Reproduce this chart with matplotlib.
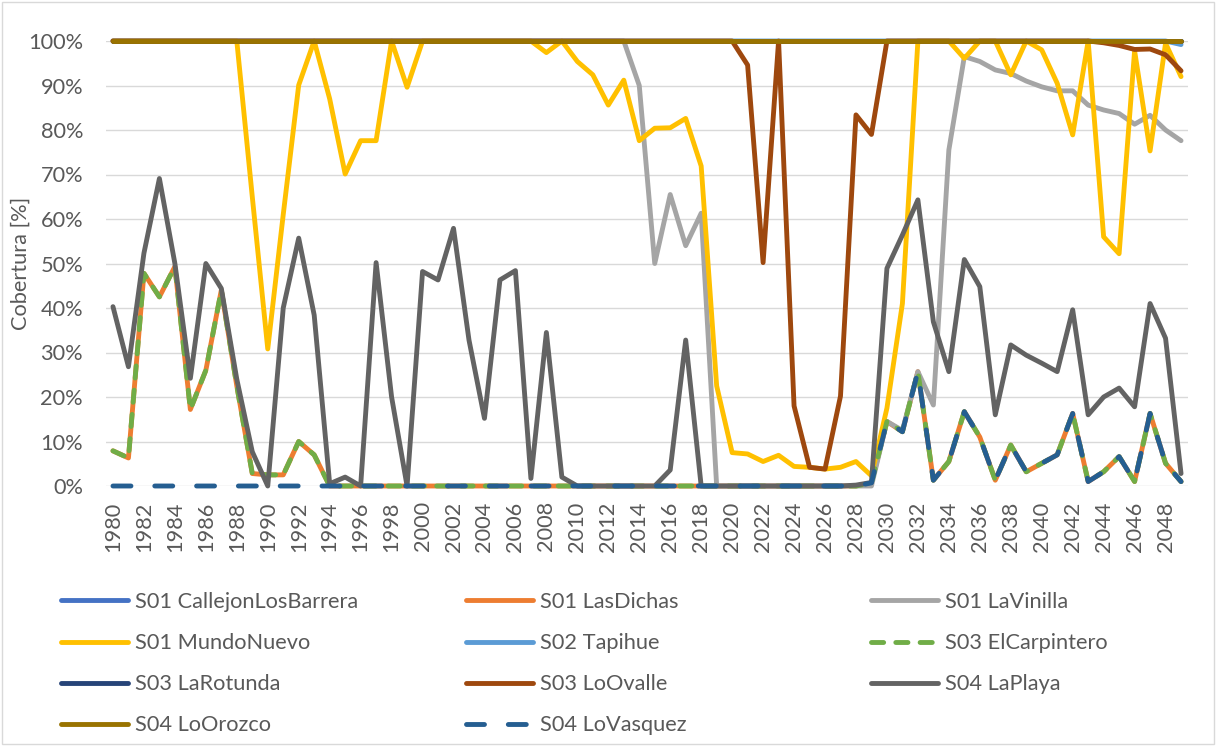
import matplotlib
matplotlib.use('Agg')
import matplotlib.pyplot as plt
from matplotlib.patches import Rectangle
from matplotlib.ticker import FuncFormatter

plt.rcParams['font.family'] = ['Lato', 'DejaVu Sans']

years = list(range(1980, 2050))

# cobertura por sitio [%]
callejon_los_barrera = [100] * 70

la_vinilla = [100] * 34 + [
    90, 50, 65.5, 54, 61.3,
    0, 0, 0, 0, 0, 0, 0, 0, 0, 0, 0,
    14.5, 12.5, 25.7, 18.2, 75.5, 96.5, 95.4, 93.5, 92.7, 91,
    89.7, 88.8, 88.8, 85.6, 84.5, 83.7, 81.3, 83.3, 80, 77.6]

mundo_nuevo = [100] * 9 + [
    65, 30.8, 61, 90.1, 100, 87, 70.1, 77.6, 77.6, 100, 89.6,
    100, 100, 100, 100, 100, 100, 100, 100, 97.4, 100,
    95.4, 92.4, 85.6, 91.2, 77.6, 80.4, 80.5, 82.6, 71.9, 22.5,
    7.5, 7.2, 5.5, 6.9, 4.4, 4.2, 3.8, 4.2, 5.5, 2.3,
    17.5, 41, 100, 100, 100, 96.1, 100, 100, 92.4, 100,
    98, 90.5, 78.9, 100, 56, 52.2, 97.8, 75.3, 99.5, 92]

tapihue = [100] * 69 + [99.2]

el_carpintero = [
    7.9, 6.3, 47.8, 42.5, 49.3, 17.2, 26, 44, 22.5, 2.8,
    2.5, 2.5, 10, 7] + [0] * 35 + [
    0.7,
    14.5, 12.2, 25.7, 1.3, 5.5, 16.7, 11, 1.3, 9.2, 3.2,
    5.1, 7, 16.3, 1, 3.2, 6.6, 1, 16.3, 5.1, 1]

las_dichas = list(el_carpintero)

la_rotunda = [100] * 70

lo_ovalle = [100] * 41 + [
    94.6, 50.2, 100, 18, 4.2, 3.8, 20.2, 83.4, 79] + [100] * 14 + [
    99.6, 99, 98.1, 98.2, 96.9, 93.3]

la_playa = [
    40.3, 26.8, 52.3, 69.1, 50, 24.2, 50, 44.4, 24, 7.7,
    0, 40, 55.7, 38.4, 0.5, 2, 0, 50.2, 20, 0,
    48.2, 46.3, 57.9, 32.8, 15.2, 46.3, 48.4, 1.7, 34.5, 2,
    0, 0, 0, 0, 0, 0, 3.6, 32.8, 0, 0,
    0, 0, 0, 0, 0, 0, 0, 0, 0.2, 0.8,
    48.9, 56.4, 64.3, 36.9, 25.7, 50.9, 44.8, 16, 31.7, 29.4,
    27.6, 25.7, 39.6, 16, 20, 22, 17.8, 41, 33.2, 2.8]

lo_orozco = [100] * 70

lo_vasquez = [0] * 49 + [
    0.7,
    14.5, 12.2, 25.7, 1.3, 5.5, 16.7, 11, 1.3, 9.2, 3.2,
    5.1, 7, 16.3, 1, 3.2, 6.6, 1, 16.3, 5.1, 1]

series = [
    ('S01 CallejonLosBarrera', callejon_los_barrera, '#4472C4', None),
    ('S01 LasDichas', las_dichas, '#ED7D31', None),
    ('S01 LaVinilla', la_vinilla, '#A5A5A5', None),
    ('S01 MundoNuevo', mundo_nuevo, '#FFC000', None),
    ('S02 Tapihue', tapihue, '#5B9BD5', None),
    ('S03 ElCarpintero', el_carpintero, '#70AD47', (2.5, 2.5)),
    ('S03 LaRotunda', la_rotunda, '#264478', None),
    ('S03 LoOvalle', lo_ovalle, '#9E480E', None),
    ('S04 LaPlaya', la_playa, '#636363', None),
    ('S04 LoOrozco', lo_orozco, '#997300', None),
    ('S04 LoVasquez', lo_vasquez, '#255E91', (3.7, 4.9)),
]

text_color = '#595959'
grid_color = '#D9D9D9'
fs = 15.7

fig = plt.figure(figsize=(12.18, 7.46), dpi=100)
ax = fig.add_axes([106 / 1218, 260 / 746, 1082 / 1218, 445 / 746])

lines = {}
for name, vals, color, dashes in series:
    kw = dict(color=color, lw=3.5, solid_capstyle='round', dash_capstyle='round',
              solid_joinstyle='round', dash_joinstyle='round', label=name, clip_on=False)
    if dashes is not None:
        kw['dashes'] = dashes
    ln, = ax.plot(years, vals, **kw)
    lines[name] = ln

ax.set_xlim(1979.55, 2049.45)
ax.set_ylim(0, 100)
ax.set_yticks(range(0, 101, 10))
ax.yaxis.set_major_formatter(FuncFormatter(lambda v, p: f'{v:.0f}%'))
ax.set_xticks(years[::2])
ax.set_xticklabels([str(y) for y in years[::2]], rotation=90)
ax.tick_params(axis='both', length=0, labelsize=fs, labelcolor=text_color)
ax.tick_params(axis='y', pad=16.5)
ax.tick_params(axis='x', pad=11)
ax.grid(axis='y', color=grid_color, lw=1)
ax.set_axisbelow(True)
for s in ax.spines.values():
    s.set_visible(False)

ax.set_ylabel('Cobertura [%]', fontsize=fs, color=text_color)
ax.yaxis.set_label_coords(-0.0786, 0.5)
ax.yaxis.label.set_va('center')

# leyenda en tres columnas, ordenada por filas
cols = [
    ['S01 CallejonLosBarrera', 'S01 MundoNuevo', 'S03 LaRotunda', 'S04 LoOrozco'],
    ['S01 LasDichas', 'S02 Tapihue', 'S03 LoOvalle', 'S04 LoVasquez'],
    ['S01 LaVinilla', 'S03 ElCarpintero', 'S04 LaPlaya'],
]
col_x = [60.5, 465.5, 870.5]
for names, x in zip(cols, col_x):
    leg = fig.legend(handles=[lines[n] for n in names], loc='upper left',
                     bbox_to_anchor=(x / 1218, 1 - 592 / 746), frameon=False,
                     fontsize=fs, handlelength=3.1, handletextpad=0.33,
                     labelspacing=0.97, borderpad=0, borderaxespad=0)
    for t in leg.get_texts():
        t.set_color(text_color)

fig.patches.append(Rectangle((2 / 1218, 2 / 746), 1212 / 1218, 742 / 746,
                             transform=fig.transFigure, fill=False,
                             edgecolor=grid_color, lw=1))

fig.savefig('out.png', dpi=100)
